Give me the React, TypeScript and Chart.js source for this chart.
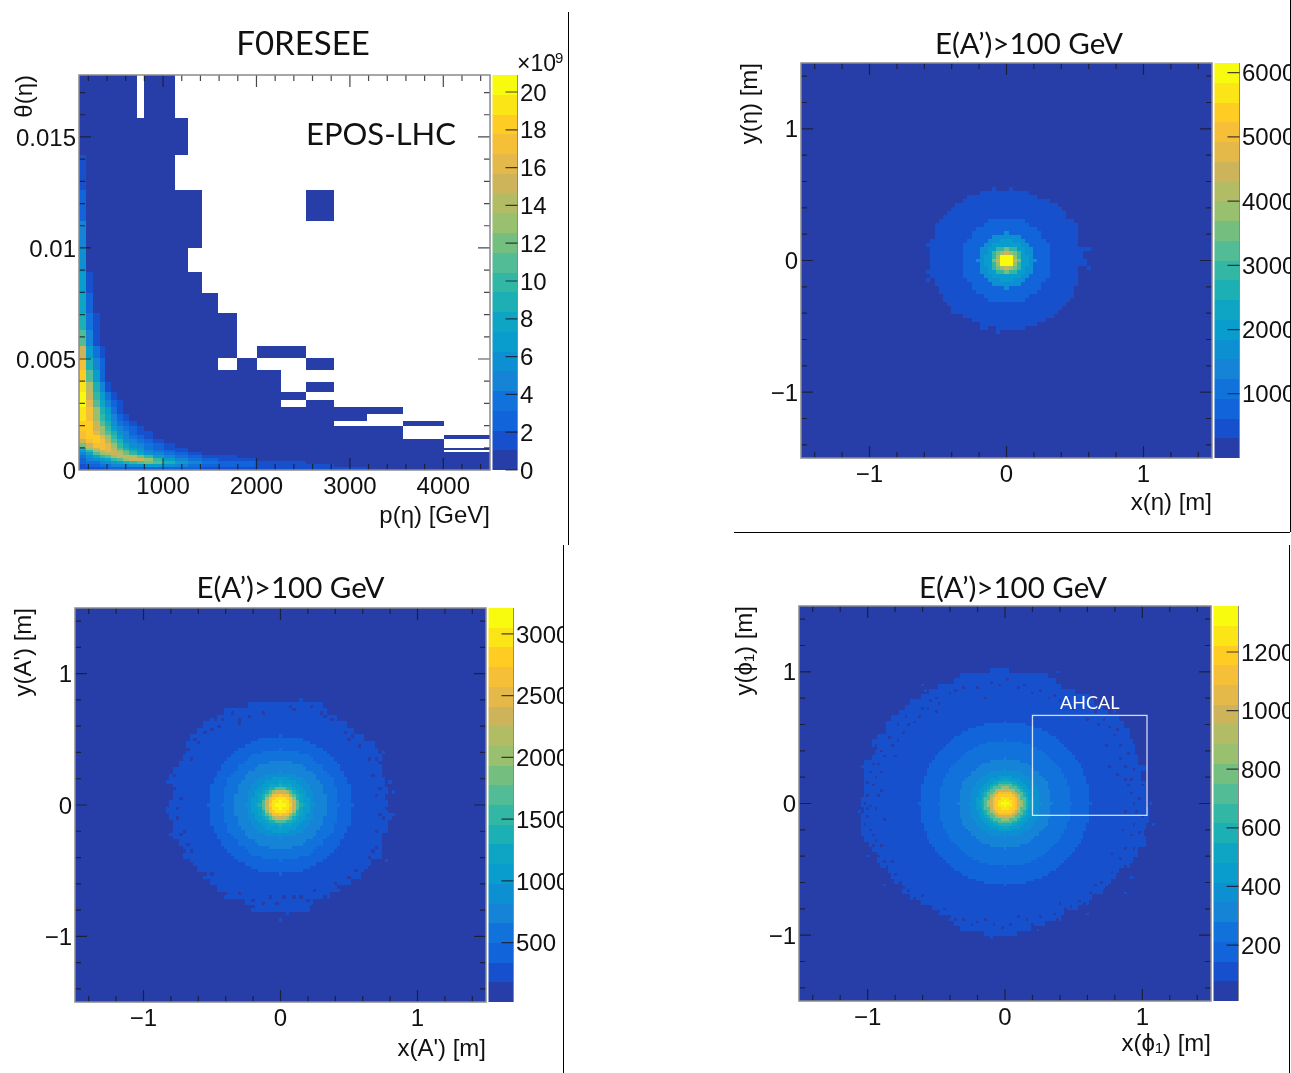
import React, { useEffect, useRef } from "react";
import { Chart, registerables } from "chart.js";

Chart.register(...registerables);

// ---------- palette (20 contours, bottom to top of every colour bar) ----------
const PALETTE = [
  "#273EA8", "#1750CC", "#1264DA", "#1272DC", "#1583D6", "#0D90D2", "#089DCC", "#0EA5C5", "#1CAFB4", "#33B7A5",
  "#52BC96", "#74BF80", "#98C06E", "#B2BC64", "#CDB35A", "#E4B94A", "#F5BF38", "#FFCC24", "#FCE516", "#F9FB0E",
];

// ---------- panel 1: p(eta) vs theta(eta), variable bins ----------
const P1_P_EDGES = [100, 175, 250, 320, 380, 445, 503, 573, 637, 717, 797, 894, 1010, 1128, 1264, 1420, 1591, 1788, 2009, 2259, 2530, 2834, 3187, 3572, 4011, 4500];
const P1_THETA_EDGES = [0.01779, 0.01586, 0.01418, 0.0126, 0.01122, 0.01002, 0.00893, 0.00796, 0.00709, 0.00631, 0.0056, 0.00503, 0.0045, 0.00398, 0.00353, 0.00315, 0.00282, 0.00252, 0.00222, 0.00198, 0.00176, 0.00158, 0.0014, 0.00122, 0.001, 0.0009, 0.00082, 0.00068, 0.00054, 0.00041, 0.00027, 0.00014, 0];
const P1_ROWS = [
  [.5, .5, .5, .5, .5, .5, .5, .5, .5, 0, .5, .5, .5],
  [.5, .5, .5, .5, .5, .5, .5, .5, .5, .5, .5, .5, .5, .5],
  [1.6, .5, .5, .5, .5, .5, .5, .5, .5, .5, .5, .5, .5],
  [2.6, .5, .5, .5, .5, .5, .5, .5, .5, .5, .5, .5, .5, .5, .5, 0, 0, 0, 0, 0, .5],
  [4.7, .5, .5, .5, .5, .5, .5, .5, .5, .5, .5, .5, .5, .5, .5],
  [5.7, .5, .5, .5, .5, .5, .5, .5, .5, .5, .5, .5, .5, .5],
  [6.8, 1.6, .5, .5, .5, .5, .5, .5, .5, .5, .5, .5, .5, .5, .5],
  [7.8, 2.6, .5, .5, .5, .5, .5, .5, .5, .5, .5, .5, .5, .5, .5, .5],
  [8.9, 3.7, 1.6, .5, .5, .5, .5, .5, .5, .5, .5, .5, .5, .5, .5, .5, .5],
  [11, 4.7, 1.6, .5, .5, .5, .5, .5, .5, .5, .5, .5, .5, .5, .5, .5, .5],
  [15, 6.8, 3.7, 1.6, .5, .5, .5, .5, .5, .5, .5, .5, .5, .5, .5, .5, .5, 0, .5, .5],
  [17, 8.9, 4.7, 2.6, .5, .5, .5, .5, .5, .5, .5, .5, .5, .5, .5, .5, 0, .5, 0, 0, .5],
  [18.3, 11, 6.8, 2.6, .5, .5, .5, .5, .5, .5, .5, .5, .5, .5, .5, .5, .5, .5, .5],
  [19.3, 14, 8.9, 4.7, 1.6, .5, .5, .5, .5, .5, .5, .5, .5, .5, .5, .5, .5, .5, .5, 0, .5],
  [20, 15, 9.9, 6.8, 3.7, 1.6, .5, .5, .5, .5, .5, .5, .5, .5, .5, .5, .5, .5, .5, .5],
  [20, 16, 11, 7.8, 4.7, 2.6, 1.6, .5, .5, .5, .5, .5, .5, .5, .5, .5, .5, .5, .5, 0, .5],
  [19.3, 17, 13, 8.9, 6.8, 3.7, 1.6, .5, .5, .5, .5, .5, .5, .5, .5, .5, .5, .5, .5, .5, .5, .5, .5],
  [19.3, 17, 13, 9.9, 7.8, 4.7, 2.6, 1.6, .5, .5, .5, .5, .5, .5, .5, .5, .5, .5, .5, .5, .5, .5],
  [18.3, 18, 15, 11, 8.9, 5.7, 3.7, 2.6, 1.6, .5, .5, .5, .5, .5, .5, .5, .5, .5, .5, .5, .5, 0, 0, .5],
  [18, 18, 15, 13, 9.9, 6.8, 4.7, 3.7, 2.6, 1.6, .5, .5, .5, .5, .5, .5, .5, .5, .5, .5, .5, .5, .5],
  [17, 18, 16, 13, 11, 8.9, 5.7, 4.7, 2.6, 1.6, 1.6, .5, .5, .5, .5, .5, .5, .5, .5, .5, .5, .5, .5],
  [17, 18.3, 18.3, 16, 13, 9.9, 6.8, 4.7, 3.7, 2.6, 1.6, .5, .5, .5, .5, .5, .5, .5, .5, .5, .5, .5, .5, 0, .5],
  [15, 17, 18, 17, 14, 11, 8.9, 5.7, 4.7, 3.7, 2.6, 1.6, .5, .5, .5, .5, .5, .5, .5, .5, .5, .5, .5, .5],
  [12, 15, 17, 17, 16, 13, 9.9, 7.8, 5.7, 4.7, 3.7, 2.6, 1.6, .5, .5, .5, .5, .5, .5, .5, .5, .5, .5, .5],
  [8.9, 13, 15, 17, 16, 14, 11, 8.9, 6.8, 5.7, 3.7, 2.6, 1.6, 1.6, .5, .5, .5, .5, .5, .5, .5, .5, .5, .5, .5],
  [6.8, 9.9, 13, 15, 16, 15, 13, 11, 8.9, 6.8, 4.7, 3.7, 2.6, 1.6, .5, .5, .5, .5, .5, .5, .5, .5, .5, .5],
  [4.7, 7.8, 11, 13, 14, 15, 14, 12, 9.9, 7.8, 5.7, 4.7, 3.7, 2.6, 1.6, .5, .5, .5, .5, .5, .5, .5, .5, .5, .5],
  [3.7, 5.7, 7.8, 9.9, 11, 13, 15, 15, 14, 12, 9.9, 6.8, 4.7, 3.7, 2.6, 1.6, 1.6, .5, .5, .5, .5, .5, .5, .5, .5],
  [2.6, 4.7, 5.7, 6.8, 7.8, 9.9, 11, 13, 15, 15, 13, 9.9, 6.8, 4.7, 3.7, 2.6, 1.6, 1.6, .5, .5, .5, .5, .5, .5, .5],
  [2.6, 3.7, 3.7, 4.7, 5.7, 6.8, 7.8, 8.9, 9.9, 11, 12, 11, 8.9, 6.8, 4.7, 3.7, 2.6, 2.6, 1.6, 1.6, .5, .5, .5, .5, .5],
  [1.6, 2.6, 2.6, 3.7, 3.7, 4.7, 4.7, 4.7, 5.7, 5.7, 6.8, 6.8, 5.7, 4.7, 3.7, 2.6, 2.6, 2.6, 1.6, 1.6, 1.6, .5, .5, .5, .5],
  [1.6, 1.6, 1.6, 1.6, 2.6, 2.6, 2.6, 2.6, 2.6, 2.6, 2.6, 2.6, 2.6, 2.6, 2.6, 1.6, 1.6, 1.6, 1.6, 1.6, 1.6, 1.6, .5, .5, .5],
];

// ---------- panel 2: x(eta), y(eta) ----------
const P2_RADII = [1.45, 2.0, 2.3, 3, 3.9, 5.3, 7, 10.8];
const P2_VALUES = [6000, 4460, 3850, 3500, 2900, 2000, 1690, 770];
const P2_OUTER = 460;
const P2_EDGES = [
  [6, 5], [9, 7], [10, 10], [12, 12], [13, 13], [14, 14], [15, 14], [16, 16], [16, 17], [17, 17], [17, 17], [17, 17], [18, 17], [18, 17], [18, 18], [18, 18], [18, 18],
  [18, 19], [18, 19], [18, 17], [18, 17], [18, 17], [17, 17], [17, 17], [16, 16], [16, 16], [15, 16], [15, 15], [14, 14], [13, 13], [13, 12], [10, 11], [8, 9], [6, 7], [2, 4],
];
const P2_STRAYS = [[-3, 18], [1, 18], [13, 13], [-17, 9], [-19, 4], [19, 3], [20, 3], [19, -1], [20, -2], [-19, -3], [-19, -5], [-6, -17], [-5, -17], [-2, -18]];
const P2_HOLES = [[-13, 15], [11, 15], [-9, -15], [9, -16], [-4, -17]];

// ---------- panel 3: x(A'), y(A') ----------
const P3_RADII = [1.3, 2.5, 3, 3.7, 4.2, 4.8, 5.3, 6, 7, 8.3, 10, 13.5, 17, 21];
const P3_VALUES = [3130, 2960, 2800, 2640, 2320, 2000, 1680, 1360, 1200, 1040, 880, 720, 560, 400];
const P3_OUTER = 240;
const P3_EDGES = [
  [9, 12], [16, 13], [18, 16], [22, 19], [24, 21], [26, 24], [27, 27], [27, 28], [28, 29], [29, 29], [31, 29], [32, 30], [32, 30], [31, 31], [31, 30], [32, 31],
  [33, 31], [32, 32], [31, 31], [31, 31], [31, 29], [29, 29], [28, 29], [28, 29], [26, 26], [24, 25], [22, 23], [20, 20], [18, 17], [16, 14], [10, 9], [7, 8],
];
const P3_STRAYS = [[6, 32], [0, -35], [-8, -32], [2, -33], [33, -3], [32, 7], [33, 4], [30, 16], [-20, 26], [-5, 31], [-2, 31], [2, 31], [-33, 7], [-32, -9], [31, -17]];
const P3_HOLES = [[-17, 26], [-12, 25], [-5, 28], [-12, 26], [9, 30], [20, 20], [19, 22], [21, 21], [28, 14], [29, 13], [30, 9], [-31, 9], [-32, 6], [-31, 5], [-28, -8], [-27, -12], [-28, -14], [-29, -16], [-26, -14], [27, -14], [28, -13], [29, -17], [25, -20], [20, -22], [17, -25], [13, -28], [8, -29], [6, -28], [-20, -21], [-16, -27], [-8, -29], [-5, -30], [-1, -30], [1, -28], [-24, 19], [-20, 23], [31, -1], [30, -4], [-30, -4], [-14, 28], [12, 28], [3, 30], [-26, 14], [-27, 17], [-25, 20], [-22, 22], [-18, 24], [-9, 27], [4, 29], [15, 26], [23, 18], [26, 14], [27, 9], [29, 5], [-29, 2], [-30, -1], [-29, -9], [-26, -18], [-22, -21], [-12, -27], [-3, -28], [4, -28], [10, -26], [16, -24], [22, -20], [26, -16], [28, -8], [29, -3], [28, 3], [-24, 24], [13, 27]];

// ---------- panel 4: x(phi1), y(phi1) ----------
const P4_RADII = [1.2, 2.4, 3.7, 4.6, 5.5, 6.3, 7.3, 8.3, 9.1, 10.4, 13, 17, 24, 31];
const P4_VALUES = [1322, 1255, 1188, 1120, 985, 851, 716, 581, 514, 446, 379, 311, 244, 177];
const P4_OUTER = 109;
const P4_EDGES = [
  [5, 1], [16, 15], [18, 18], [24, 20], [27, 25], [30, 30], [34, 32], [36, 35], [38, 37], [41, 41], [43, 43], [43, 45], [46, 45], [48, 46], [46, 47], [47, 47], [48, 48],
  [51, 48], [51, 51], [51, 49], [51, 49], [51, 51], [51, 51], [51, 51], [52, 51], [52, 51], [51, 52], [52, 52], [52, 52], [52, 51], [52, 50], [51, 51], [49, 51], [48, 48],
  [46, 48], [46, 46], [45, 45], [42, 41], [41, 40], [40, 38], [37, 37], [37, 35], [34, 31], [30, 30], [26, 26], [24, 21], [20, 20], [18, 14], [16, 9], [7, 4],
];
const P4_STRAYS = [[-6, 48], [19, 50], [-30, 45], [-29, 43], [25, 43], [40, 35], [-48, 22], [-52, 14], [53, 0], [54, -8], [-53, -3], [-50, -20], [-44, -31], [46, -28], [44, -34], [-5, -51], [30, -42], [12, -48]];
const P4_HOLES = [[-7, 40], [-20, 42], [-24, 38], [-28, 36], [-31, 33], [-35, 30], [-37, 27], [-41, 22], [-44, 18], [-46, 15], [-47, 10], [-48, 7], [-50, 3], [-47, -2], [-50, -5], [-49, -10], [-47, -14], [-46, -20], [-43, -24], [-40, -27], [-37, -32], [-33, -36], [-28, -39], [-24, -41], [-20, -43], [-15, -44], [-10, -45], [-4, -46], [2, -46], [8, -44], [13, -43], [18, -42], [22, -40], [27, -37], [31, -34], [35, -30], [39, -26], [42, -21], [44, -17], [46, -12], [47, -8], [47, 0], [46, 4], [44, 9], [41, 11], [38, 14], [42, 17], [37, 22], [40, 26], [34, 30], [30, 32], [25, 36], [20, 39], [16, 40], [10, 42], [5, 44], [-2, 45], [44, -3], [45, 7], [43, -10], [39, -19], [-44, -6], [-45, 5], [-39, 24], [-33, 31], [-25, 35], [-40, 18], [33, -31], [-30, -35], [20, -38], [-49, 12], [-50, 8], [-51, 0], [-50, -2], [-51, -8], [-48, -12], [-48, -16], [-45, -16], [-44, -22], [-41, -22], [-42, -29], [-38, -30], [-35, -33], [-34, -38], [-30, -39], [-26, -43], [-22, -40], [-18, -44], [-12, -46], [-7, -44], [-1, -47], [5, -43], [10, -46], [15, -45], [19, -44], [24, -39], [29, -38], [33, -35], [37, -32], [41, -28], [44, -24], [47, -17], [49, -11], [50, -5], [48, -3], [49, 2], [50, 7], [46, 9], [47, 13], [44, 14], [45, 19], [42, 22], [41, 28], [38, 29], [36, 32], [33, 35], [28, 36], [23, 40], [18, 41], [13, 43], [7, 45], [1, 47], [-5, 46], [-10, 44], [-15, 44], [-18, 43], [-25, 40], [-27, 39], [-30, 36], [-36, 33], [-39, 30], [-42, 25], [-45, 20], [-45, 12], [-48, 15], [-46, 3], [-49, -1]];

// ---------- tick lists ----------
const P1_X_TICKS = [1000, 2000, 3000, 4000];
const P1_X_LABELS = ["1000", "2000", "3000", "4000"];
const P1_Y_TICKS = [0, 0.005, 0.01, 0.015];
const P1_Y_LABELS = ["0", "0.005", "0.01", "0.015"];
const P1_Z_TICKS = [0, 2, 4, 6, 8, 10, 12, 14, 16, 18, 20];
const P2_Z_TICKS = [1000, 2000, 3000, 4000, 5000, 6000];
const P3_Z_TICKS = [500, 1000, 1500, 2000, 2500, 3000];
const P4_Z_TICKS = [200, 400, 600, 800, 1000, 1200];
const XY_TICKS = [-1, 0, 1];
const XY_LABELS = ["\u22121", "0", "1"];
const AHCAL_BOX = [0.2, 1.034, -0.09, 0.669];

const TICK_FONT = "'Liberation Sans', Arial, sans-serif";
const CALIBRI_LIKE = "Lato, 'Open Sans', sans-serif";

type Cell = { x: number; y: number; x0: number; x1: number; y0: number; y1: number; v: number };

function p1Cells(): Cell[] {
  const out: Cell[] = [];
  P1_ROWS.forEach((row, r) => {
    row.forEach((v, c) => {
      if (!v) return;
      const x0 = P1_P_EDGES[c], x1 = P1_P_EDGES[c + 1], y1 = P1_THETA_EDGES[r], y0 = P1_THETA_EDGES[r + 1];
      out.push({ x: (x0 + x1) / 2, y: (y0 + y1) / 2, x0, x1, y0, y1, v });
    });
  });
  return out;
}

function radialCells(radii: number[], values: number[], outer: number, edges: number[][], top: number, step: number, d: number, holes: number[][], strays: number[][], zMin: number): Cell[] {
  const out: Cell[] = [{ x: 0, y: 0, x0: -1.5, x1: 1.5, y0: -1.5, y1: 1.5, v: zMin }];
  const hole = new Set(holes.map((h) => h.join()));
  const N = Math.ceil(1.5 / d);
  const push = (c: number, r: number, v: number) =>
    out.push({ x: c * d, y: r * d, x0: (c - 0.5) * d, x1: (c + 0.5) * d, y0: (r - 0.5) * d, y1: (r + 0.5) * d, v });
  for (let r = N; r >= -N; r--) {
    const e = edges[Math.round((top - r * d) / step)];
    if (!e) continue;
    for (let c = -e[0]; c <= e[1]; c++) {
      if (hole.has(c + "," + r)) continue;
      const dist = Math.hypot(c, r);
      const i = radii.findIndex((q) => dist <= q);
      push(c, r, i < 0 ? outer : values[i]);
    }
  }
  strays.forEach(([c, r]) => push(c, r, outer));
  return out;
}

type PanelCfg = {
  left: number; top: number; width: number; height: number;
  padL: number; axisL: number; axisR: number; axisB: number;
  title: string; titleFont: number; titlePad: { top: number; bottom: number };
  xMin: number; xMax: number; yMin: number; yMax: number; zMin: number; zMax: number;
  xTicks: number[]; xLabels: string[]; yTicks: number[]; yLabels: string[]; zTicks: number[];
  xMinor: number; yMinor: number;
  xTitle: string; yTitle: string; xTitlePad: number; yTitlePad: number;
  xTickPad: number; yTickPad: number;
  cells: Cell[];
  decorate?: (chart: any, ctx: CanvasRenderingContext2D) => void;
};

function bandOf(v: number, zMin: number, zMax: number) {
  return Math.max(0, Math.min(19, Math.floor(((v - zMin) / (zMax - zMin)) * 20)));
}

function multiples(min: number, max: number, step: number) {
  const out: number[] = [];
  for (let k = Math.ceil(min / step - 1e-9); k * step <= max + 1e-9; k++) out.push(k * step);
  return out;
}

function makePlugin(cfg: PanelCfg) {
  return {
    id: "rootHist",
    afterDatasetsDraw(chart: any) {
      const { ctx, chartArea: a, scales } = chart;
      const sx = scales.x, sy = scales.y, sz = scales.z;
      const tickColor = "rgba(25,25,35,0.8)";
      ctx.save();
      ctx.beginPath();
      ctx.rect(a.left, a.top, a.right - a.left, a.bottom - a.top);
      ctx.clip();
      for (const c of chart.data.datasets[0].data as Cell[]) {
        const l = Math.round(sx.getPixelForValue(c.x0));
        const r = Math.round(sx.getPixelForValue(c.x1));
        const t = Math.round(sy.getPixelForValue(c.y1));
        const b = Math.round(sy.getPixelForValue(c.y0));
        ctx.fillStyle = PALETTE[bandOf(c.v, cfg.zMin, cfg.zMax)];
        ctx.fillRect(l, t, r - l, b - t);
      }
      ctx.restore();

      // colour bar
      const barL = a.right + 2.5, barW = 25;
      for (const c of chart.data.datasets[1].data as Cell[]) {
        const t = Math.round(sz.getPixelForValue(c.y1));
        const b = Math.round(sz.getPixelForValue(c.y0));
        ctx.fillStyle = PALETTE[bandOf(c.v, cfg.zMin, cfg.zMax)];
        ctx.fillRect(barL, t, barW, b - t);
      }
      ctx.strokeStyle = "#8a8a8a";
      ctx.lineWidth = 1;
      ctx.beginPath();
      ctx.moveTo(barL + barW, a.top);
      ctx.lineTo(barL + barW, a.bottom);
      ctx.stroke();
      ctx.strokeStyle = tickColor;
      ctx.lineWidth = 1.2;
      ctx.beginPath();
      for (const z of cfg.zTicks) {
        const p = sz.getPixelForValue(z);
        ctx.moveTo(barL + barW - 12, p);
        ctx.lineTo(barL + barW, p);
      }
      ctx.stroke();

      // inward ROOT-style ticks on all four sides
      const tick = (vals: number[], len: number) => {
        for (const v of vals) {
          const p = sx.getPixelForValue(v);
          if (p < a.left + 1 || p > a.right - 1) continue;
          ctx.moveTo(p, a.bottom); ctx.lineTo(p, a.bottom - len);
          ctx.moveTo(p, a.top); ctx.lineTo(p, a.top + len);
        }
      };
      const tickY = (vals: number[], len: number) => {
        for (const v of vals) {
          const p = sy.getPixelForValue(v);
          if (p < a.top + 1 || p > a.bottom - 1) continue;
          ctx.moveTo(a.left, p); ctx.lineTo(a.left + len, p);
          ctx.moveTo(a.right, p); ctx.lineTo(a.right - len, p);
        }
      };
      ctx.beginPath();
      tick(multiples(cfg.xMin, cfg.xMax, cfg.xMinor), 6);
      tick(cfg.xTicks, 12);
      tickY(multiples(cfg.yMin, cfg.yMax, cfg.yMinor), 6);
      tickY(cfg.yTicks, 12);
      ctx.stroke();

      // frame
      ctx.strokeStyle = "#8a8a8a";
      ctx.lineWidth = 1.5;
      ctx.strokeRect(a.left, a.top, a.right - a.left, a.bottom - a.top);

      if (cfg.decorate) cfg.decorate(chart, ctx);
    },
  };
}

const barData = (zMin: number, zMax: number): Cell[] => {
  const out: Cell[] = [];
  for (let i = 0; i < 20; i++) {
    const y0 = zMin + ((zMax - zMin) * i) / 20, y1 = zMin + ((zMax - zMin) * (i + 1)) / 20;
    out.push({ x: 0, y: (y0 + y1) / 2, x0: 0, x1: 1, y0, y1, v: (y0 + y1) / 2 });
  }
  return out;
};

const text = (ctx: CanvasRenderingContext2D, s: string, x: number, y: number, font: string, color: string, align: CanvasTextAlign = "left") => {
  ctx.save();
  ctx.font = font;
  ctx.fillStyle = color;
  ctx.textAlign = align;
  ctx.textBaseline = "middle";
  ctx.fillText(s, x, y);
  ctx.restore();
};

const PANELS: PanelCfg[] = [
  {
    left: 0, top: 0, width: 591, height: 545, padL: 15, axisL: 64, axisR: 101, axisB: 75,
    title: "F0RESEE", titleFont: 33, titlePad: { top: 28, bottom: 14 },
    xMin: 100, xMax: 4500, yMin: 0, yMax: 0.01779, zMin: 0, zMax: 20.9,
    xTicks: P1_X_TICKS, xLabels: P1_X_LABELS, yTicks: P1_Y_TICKS, yLabels: P1_Y_LABELS, zTicks: P1_Z_TICKS,
    xMinor: 200, yMinor: 0.001, xTitle: "p(\u03B7) [GeV]", yTitle: "\u03B8(\u03B7)", xTitlePad: 17, yTitlePad: -2,
    xTickPad: 5, yTickPad: 3,
    cells: p1Cells(),
    decorate(chart, ctx) {
      const a = chart.chartArea;
      text(ctx, "EPOS-LHC", a.left + 227, a.top + 60, `31px ${CALIBRI_LIKE}`, "#111");
      text(ctx, "\u00D710", a.right + 27, a.top - 10, `23px ${TICK_FONT}`, "#111");
      text(ctx, "9", a.right + 65, a.top - 16, `15px ${TICK_FONT}`, "#111");
    },
  },
  {
    left: 735, top: 0, width: 556, height: 532, padL: 32, axisL: 34, axisR: 79, axisB: 74,
    title: "E(A\u2019)>100 GeV", titleFont: 29.5, titlePad: { top: 30, bottom: 3.5 },
    xMin: -1.5, xMax: 1.5, yMin: -1.5, yMax: 1.5, zMin: 0, zMax: 6150,
    xTicks: XY_TICKS, xLabels: XY_LABELS, yTicks: XY_TICKS, yLabels: XY_LABELS, zTicks: P2_Z_TICKS,
    xMinor: 0.2, yMinor: 0.2, xTitle: "x(\u03B7) [m]", yTitle: "y(\u03B7) [m]", xTitlePad: 17, yTitlePad: -29,
    xTickPad: 5, yTickPad: 3,
    cells: radialCells(P2_RADII, P2_VALUES, P2_OUTER, P2_EDGES, 0.51, 0.03, 0.03, P2_HOLES, P2_STRAYS, 0),
  },
  {
    left: 0, top: 545, width: 564, height: 528, padL: 17, axisL: 58, axisR: 78, axisB: 71,
    title: "E(A\u2019)>100 GeV", titleFont: 29.5, titlePad: { top: 29, bottom: 4.5 },
    xMin: -1.5, xMax: 1.5, yMin: -1.5, yMax: 1.5, zMin: 20, zMax: 3210,
    xTicks: XY_TICKS, xLabels: XY_LABELS, yTicks: XY_TICKS, yLabels: XY_LABELS, zTicks: P3_Z_TICKS,
    xMinor: 0.2, yMinor: 0.2, xTitle: "x(A') [m]", yTitle: "y(A') [m]", xTitlePad: 12, yTitlePad: -5,
    xTickPad: 5, yTickPad: 3,
    cells: radialCells(P3_RADII, P3_VALUES, P3_OUTER, P3_EDGES, 0.772, 0.0506, 0.025, P3_HOLES, P3_STRAYS, 20),
  },
  {
    left: 700, top: 545, width: 589, height: 528, padL: 37, axisL: 62, axisR: 78, axisB: 72,
    title: "E(A\u2019)>100 GeV", titleFont: 29.5, titlePad: { top: 29, bottom: 2.5 },
    xMin: -1.5, xMax: 1.5, yMin: -1.5, yMax: 1.5, zMin: 9, zMax: 1357,
    xTicks: XY_TICKS, xLabels: XY_LABELS, yTicks: XY_TICKS, yLabels: XY_LABELS, zTicks: P4_Z_TICKS,
    xMinor: 0.2, yMinor: 0.2, xTitle: "x(\u03D5\u2081) [m]", yTitle: "y(\u03D5\u2081) [m]", xTitlePad: 17, yTitlePad: -4,
    xTickPad: 5, yTickPad: 3,
    cells: radialCells(P4_RADII, P4_VALUES, P4_OUTER, P4_EDGES, 1.01, 0.041, 0.02, P4_HOLES, P4_STRAYS, 9),
    decorate(chart, ctx) {
      const { x, y } = chart.scales;
      const [x0, x1, y0, y1] = AHCAL_BOX;
      ctx.save();
      ctx.strokeStyle = "rgba(255,255,255,0.8)";
      ctx.lineWidth = 1.3;
      ctx.strokeRect(x.getPixelForValue(x0), y.getPixelForValue(y1), x.getPixelForValue(x1) - x.getPixelForValue(x0), y.getPixelForValue(y0) - y.getPixelForValue(y1));
      ctx.restore();
      text(ctx, "AHCAL", x.getPixelForValue((x0 + x1) / 2), y.getPixelForValue(y1) - 12, `18px ${CALIBRI_LIKE}`, "#fff", "center");
    },
  },
];

function Panel({ cfg }: { cfg: PanelCfg }) {
  const ref = useRef<HTMLCanvasElement>(null);
  useEffect(() => {
    const axisFont = { family: TICK_FONT, size: 24, lineHeight: 1 };
    const chart = new Chart(ref.current as HTMLCanvasElement, {
      type: "scatter",
      data: {
        datasets: [
          { label: "bins", data: cfg.cells as any, pointRadius: 0, showLine: false, xAxisID: "x", yAxisID: "y" },
          { label: "colour bar", data: barData(cfg.zMin, cfg.zMax) as any, pointRadius: 0, showLine: false, xAxisID: "x", yAxisID: "z" },
        ],
      },
      options: {
        responsive: false,
        animation: false,
        events: [],
        layout: { autoPadding: false, padding: { left: cfg.padL, right: 0, top: 0, bottom: 0 } } as any,
        plugins: {
          legend: { display: false },
          tooltip: { enabled: false },
          title: {
            display: true, text: cfg.title, color: "#111", padding: cfg.titlePad,
            font: { family: CALIBRI_LIKE, size: cfg.titleFont, weight: "normal", lineHeight: 1 },
          },
        },
        scales: {
          x: {
            type: "linear", position: "bottom", min: cfg.xMin, max: cfg.xMax,
            grid: { display: false, drawTicks: false }, border: { display: false },
            afterBuildTicks: (s: any) => { s.ticks = cfg.xTicks.map((value) => ({ value })); },
            afterFit: (s: any) => { s.height = cfg.axisB; },
            ticks: { color: "#111", font: axisFont, padding: cfg.xTickPad, maxRotation: 0, autoSkip: false, callback: (_: any, i: number) => cfg.xLabels[i] },
            title: { display: true, text: cfg.xTitle, align: "end", color: "#111", font: axisFont, padding: cfg.xTitlePad },
          },
          y: {
            type: "linear", position: "left", min: cfg.yMin, max: cfg.yMax,
            grid: { display: false, drawTicks: false }, border: { display: false },
            afterBuildTicks: (s: any) => { s.ticks = cfg.yTicks.map((value) => ({ value })); },
            afterFit: (s: any) => { s.width = cfg.axisL; },
            ticks: { color: "#111", font: axisFont, padding: cfg.yTickPad, labelOffset: 2, autoSkip: false, callback: (_: any, i: number) => cfg.yLabels[i] },
            title: { display: true, text: cfg.yTitle, align: "end", color: "#111", font: axisFont, padding: cfg.yTitlePad },
          },
          z: {
            type: "linear", position: "right", min: cfg.zMin, max: cfg.zMax,
            grid: { display: false, drawTicks: false }, border: { display: false },
            afterBuildTicks: (s: any) => { s.ticks = cfg.zTicks.map((value) => ({ value })); },
            afterFit: (s: any) => { s.width = cfg.axisR; },
            ticks: { color: "#111", font: axisFont, padding: 30, labelOffset: 2, autoSkip: false, callback: (v: any) => String(v) },
          },
        },
      } as any,
      plugins: [makePlugin(cfg) as any],
    });
    return () => chart.destroy();
  }, [cfg]);
  return (
    <canvas
      ref={ref}
      width={cfg.width}
      height={cfg.height}
      style={{ position: "absolute", left: cfg.left, top: cfg.top, width: cfg.width, height: cfg.height, filter: "blur(0.5px)" }}
    />
  );
}

const line = (left: number, top: number, width: number, height: number): React.CSSProperties => ({ position: "absolute", left, top, width, height, background: "#000" });

export default function App() {
  return (
    <div style={{ position: "absolute", left: 0, top: 0, width: 1291, height: 1073, overflow: "hidden", background: "#fff" }}>
      {PANELS.map((cfg, i) => (
        <Panel key={i} cfg={cfg} />
      ))}
      <div style={line(568, 12, 1, 533)} />
      <div style={line(563, 545, 1, 528)} />
      <div style={line(734, 532, 556, 1)} />
      <div style={line(1290, 0, 1, 532)} />
      <div style={line(1289, 545, 1, 528)} />
    </div>
  );
}
